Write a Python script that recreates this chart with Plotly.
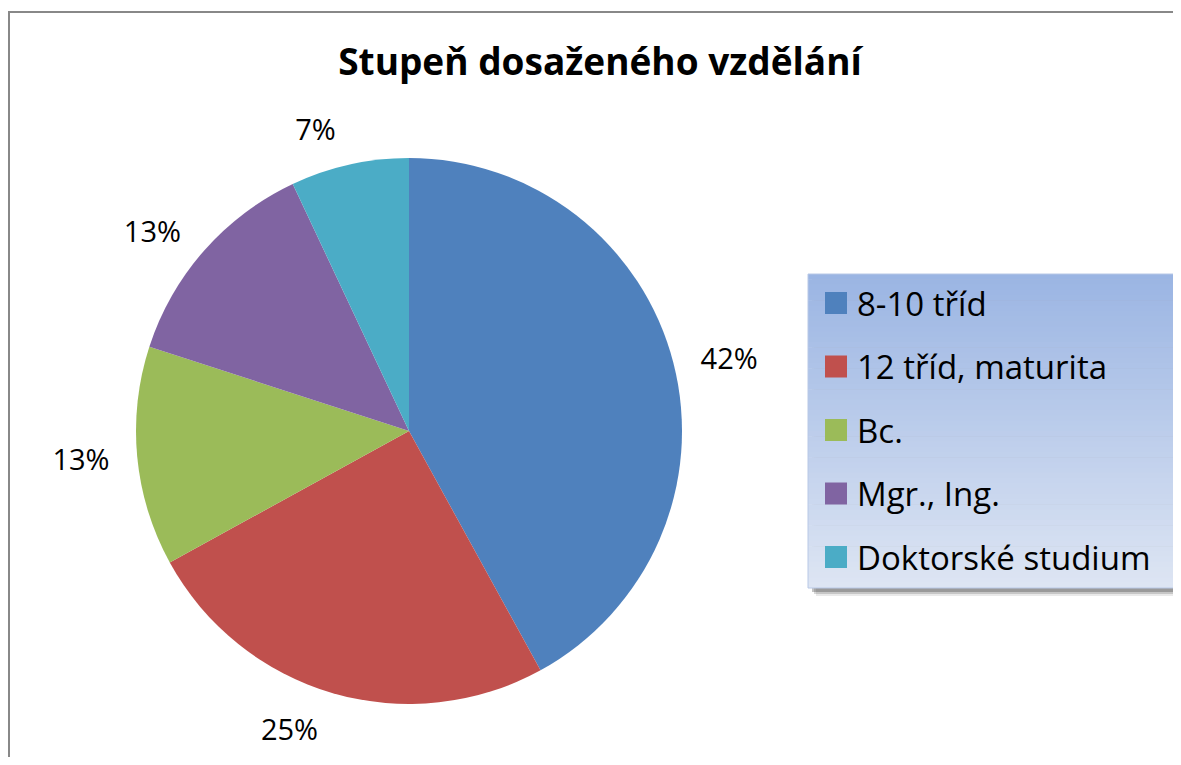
import plotly.graph_objects as go

# page body has an 8px margin, so the figure is offset by 8px
OFF = 8
W, H = 1181 - OFF, 765 - 2 * OFF

categories = ["8-10 tříd", "12 tříd, maturita", "Bc.", "Mgr., Ing.", "Doktorské studium"]
values = [42, 25, 13, 13, 7]
colors = ["#4F81BD", "#C0504D", "#9BBB59", "#8064A2", "#4BACC6"]
title_text = "Stupeň dosaženého vzdělání"

FONT = "Open Sans"


def px(x):
    return (x - OFF) / W


def py(y):
    return 1 - (y - OFF) / H


# pie geometry (reference pixels)
cx, cy, r = 409, 431, 273
lab_extra = 18

fig = go.Figure()
# invisible, slightly larger pie that carries the outside percentage labels
fig.add_trace(go.Pie(
    labels=categories,
    values=values,
    marker=dict(colors=["rgba(0,0,0,0)"] * len(values), line=dict(width=0)),
    sort=False,
    direction="clockwise",
    rotation=0,
    textinfo="percent",
    textposition="outside",
    outsidetextfont=dict(family=FONT, size=29, color="#000000"),
    domain=dict(x=[px(cx - r - lab_extra), px(cx + r + lab_extra)],
                y=[py(cy + r + lab_extra), py(cy - r - lab_extra)]),
    showlegend=False,
    hoverinfo="skip",
))
fig.add_trace(go.Pie(
    labels=categories,
    values=values,
    marker=dict(colors=colors, line=dict(width=0)),
    sort=False,
    direction="clockwise",
    rotation=0,
    textinfo="none",
    domain=dict(x=[px(cx - r), px(cx + r)], y=[py(cy + r), py(cy - r)]),
    showlegend=False,
    hoverinfo="label+percent",
))

shapes = []
# chart border
shapes.append(dict(type="rect", xref="paper", yref="paper",
                   x0=px(9), x1=px(1220), y0=py(12), y1=py(820),
                   line=dict(color="#888888", width=2), fillcolor="rgba(0,0,0,0)", layer="below"))

# legend box geometry
lx0, lx1, ly0, ly1 = 808, 1175, 274, 588
for off, op in [(8, 0.10), (6, 0.18), (4, 0.28)]:
    shapes.append(dict(type="rect", xref="paper", yref="paper",
                       x0=px(lx0 + off), x1=px(lx1 + off), y0=py(ly0 + off), y1=py(ly1 + off),
                       line=dict(width=0), fillcolor=f"rgba(40,40,40,{op})", layer="below"))
top = (155, 181, 227)
bot = (221, 229, 243)
N = 60
for i in range(N):
    t = i / (N - 1)
    c = tuple(round(top[k] + (bot[k] - top[k]) * t) for k in range(3))
    ya = ly0 + (ly1 - ly0) * i / N
    yb = ly0 + (ly1 - ly0) * (i + 1) / N + 0.6
    shapes.append(dict(type="rect", xref="paper", yref="paper",
                       x0=px(lx0), x1=px(lx1), y0=py(ya), y1=py(min(yb, ly1)),
                       line=dict(width=0), fillcolor=f"rgb{c}", layer="below"))
shapes.append(dict(type="rect", xref="paper", yref="paper",
                   x0=px(lx0), x1=px(lx1), y0=py(ly0), y1=py(ly1),
                   line=dict(color="#B8C8E6", width=1), fillcolor="rgba(0,0,0,0)", layer="below"))

annotations = []
row0, step = 303, 63.5
for i, (cat, col) in enumerate(zip(categories, colors)):
    yc = row0 + step * i
    shapes.append(dict(type="rect", xref="paper", yref="paper",
                       x0=px(825), x1=px(847), y0=py(yc - 11), y1=py(yc + 11),
                       line=dict(width=0), fillcolor=col))
    annotations.append(dict(text=cat, xref="paper", yref="paper",
                            x=px(855), y=py(yc), xanchor="left", yanchor="middle",
                            showarrow=False, font=dict(family=FONT, size=33, color="#000000")))

fig.update_layout(
    width=W, height=H,
    margin=dict(l=0, r=0, t=0, b=0),
    paper_bgcolor="#FFFFFF",
    plot_bgcolor="#FFFFFF",
    title=dict(text=f"<b>{title_text}</b>", x=px(600), y=py(62), xanchor="center", yanchor="middle",
               font=dict(family=FONT, size=37, color="#000000")),
    shapes=shapes,
    annotations=annotations,
    showlegend=False,
)

fig.write_html("out.html")
